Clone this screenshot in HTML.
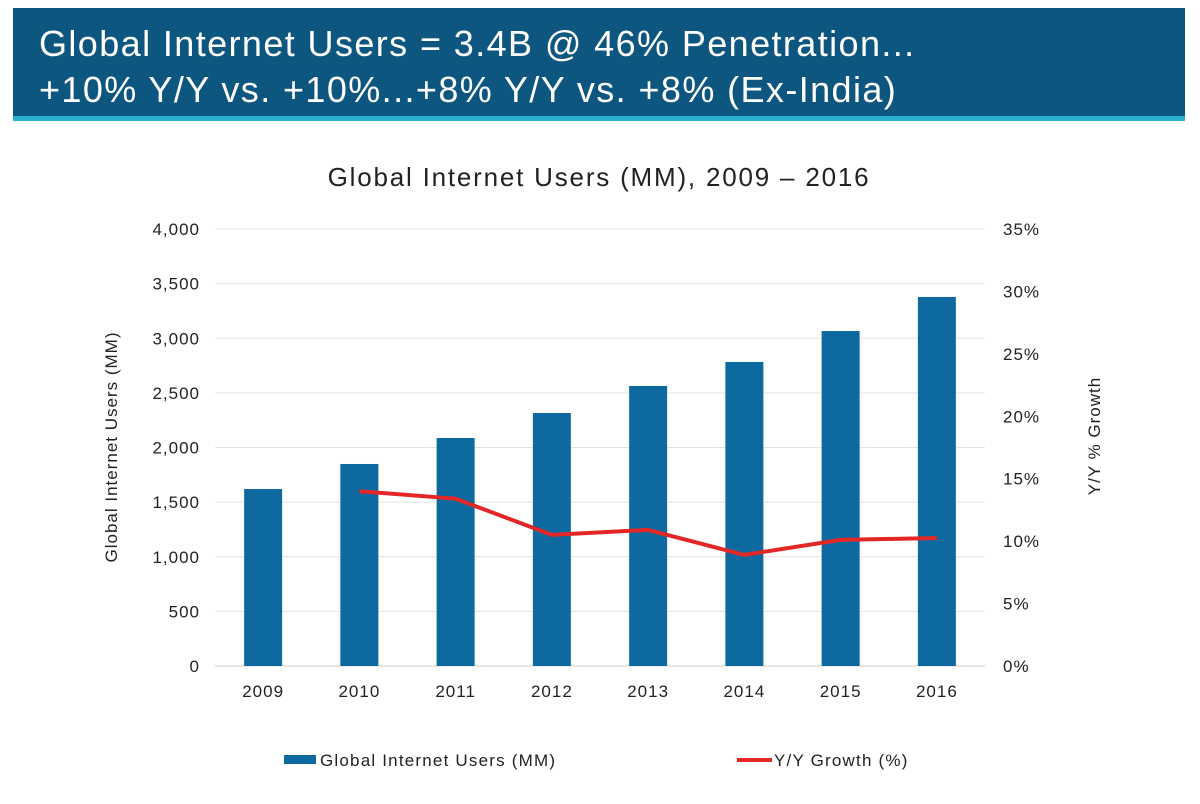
<!DOCTYPE html>
<html><head><meta charset="utf-8"><style>
body{margin:0;width:1200px;height:804px;background:#fff;overflow:hidden;font-family:"Liberation Sans",sans-serif}
#hdr{position:absolute;left:13px;top:8px;width:1172px;height:108px;background:#0d5680}
#stripe{position:absolute;left:13px;top:116px;width:1172px;height:5px;background:#2ab0d0}
#hdr div{position:absolute;left:26px;color:#fff;font-size:36px;letter-spacing:1.4px;white-space:nowrap}
svg text{letter-spacing:1px}
</style></head><body>
<div id="hdr">
<div style="top:15px">Global Internet Users = 3.4B @ 46% Penetration...</div>
<div style="top:61px">+10% Y/Y vs. +10%...+8% Y/Y vs. +8% (Ex-India)</div>
</div>
<div id="stripe"></div>
<svg id="chart" width="1200" height="804" style="position:absolute;left:0;top:0"></svg>
<script>
const years=['2009','2010','2011','2012','2013','2014','2015','2016'];
const users=[1620,1849,2087,2316,2563,2783,3066,3378];
const growth=[null,14.0,13.4,10.5,10.9,8.9,10.1,10.25];
const leftTicks=[0,500,1000,1500,2000,2500,3000,3500,4000];
const rightTicks=[0,5,10,15,20,25,30,35];
const NS='http://www.w3.org/2000/svg';
const svg=document.getElementById('chart');
const X0=215,X1=985,Y0=666,Y1=229;
const step=(X1-X0)/years.length;
const xc=i=>X0+step*(i+0.5);
const yL=v=>Y0-(v/4000)*(Y0-Y1);
const yR=v=>Y0-(v/35)*(Y0-Y1);
function mk(t,a,txt){const e=document.createElementNS(NS,t);for(const k in a)e.setAttribute(k,a[k]);if(txt!=null)e.textContent=txt;svg.appendChild(e);return e;}
let e=mk('text',{x:599,y:186,'text-anchor':'middle','font-size':26,fill:'#222',style:'letter-spacing:1.8px'},'Global Internet Users (MM), 2009 – 2016');


leftTicks.forEach(v=>{
 const g=mk('line',{x1:X0,x2:X1,y1:yL(v),y2:yL(v),stroke:v===0?'#ccc':'#e2e2e2','stroke-width':1});
 
 
 const t=mk('text',{x:200,y:yL(v)+6,'text-anchor':'end','font-size':17,fill:'#222'},v.toLocaleString('en-US'));
 
 
});
rightTicks.forEach(v=>{
 const t=mk('text',{x:1003,y:yR(v)+6,'font-size':17,fill:'#222'},v+'%');
 
 
});
years.forEach((y,i)=>{
 const b=mk('rect',{x:xc(i)-19,y:yL(users[i]),width:38,height:Y0-yL(users[i]),fill:'#0e69a1'});
 
 
 const t=mk('text',{x:xc(i),y:697,'text-anchor':'middle','font-size':17,fill:'#222'},y);
 
 
});
const pts=[];growth.forEach((g,i)=>{if(g!=null)pts.push(xc(i)+','+yR(g));});
const pl=mk('polyline',{points:pts.join(' '),fill:'none',stroke:'#e32727','stroke-width':4,'stroke-linejoin':'round'});


e=mk('text',{x:117,y:447,'text-anchor':'middle','font-size':17,fill:'#222',transform:'rotate(-90 117 447)'},'Global Internet Users (MM)');


e=mk('text',{x:1100,y:436,'text-anchor':'middle','font-size':17,fill:'#222',transform:'rotate(-90 1100 436)'},'Y/Y % Growth');


e=mk('rect',{x:284,y:755,width:32,height:9,fill:'#0e69a1'});


e=mk('text',{x:320,y:766,'font-size':17,fill:'#222',style:'letter-spacing:1.2px'},'Global Internet Users (MM)');


e=mk('line',{x1:737,x2:772,y1:760,y2:760,stroke:'#e32727','stroke-width':4});


e=mk('text',{x:774,y:766,'font-size':17,fill:'#222',style:'letter-spacing:1.2px'},'Y/Y Growth (%)');


</script>
</body></html>
